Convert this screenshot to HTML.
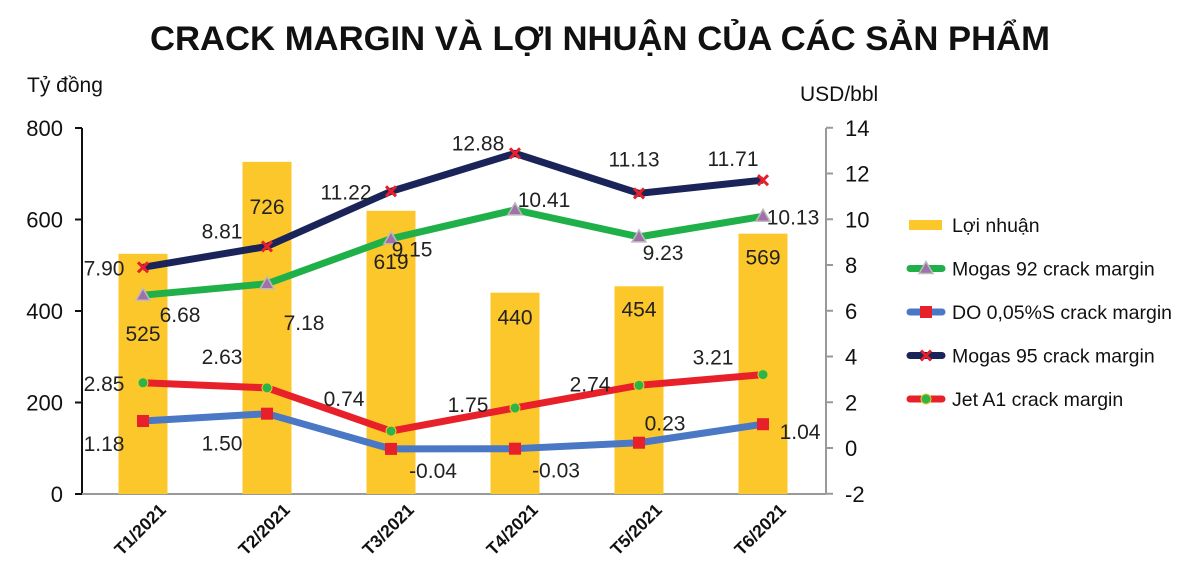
<!DOCTYPE html>
<html><head><meta charset="utf-8"><style>
html,body{margin:0;padding:0;background:#fff;}
svg{display:block;font-family:"Liberation Sans",sans-serif;}
</style></head><body>
<svg id="chart" width="1200" height="563" viewBox="0 0 1200 563">
<text x="600" y="50" text-anchor="middle" font-size="34" font-weight="bold" fill="#111" textLength="900" lengthAdjust="spacingAndGlyphs">CRACK MARGIN VÀ LỢI NHUẬN CỦA CÁC SẢN PHẨM</text>
<text x="27" y="92" font-size="21" fill="#111">Tỷ đồng</text>
<text x="800" y="101" font-size="21" fill="#111">USD/bbl</text>
<g id="axes"></g><g id="bars"></g><g id="lines"></g><g id="labels"></g><g id="legend"></g>
</svg>
<script>
const categories=["T1/2021","T2/2021","T3/2021","T4/2021","T5/2021","T6/2021"];
const profit=[525,726,619,440,454,569];
const mogas92=[6.68,7.18,9.15,10.41,9.23,10.13];
const doOil=[1.18,1.50,-0.04,-0.03,0.23,1.04];
const mogas95=[7.90,8.81,11.22,12.88,11.13,11.71];
const jetA1=[2.85,2.63,0.74,1.75,2.74,3.21];
const leftTicks=[0,200,400,600,800];
const rightTicks=[-2,0,2,4,6,8,10,12,14];

const NS="http://www.w3.org/2000/svg";
function mk(tag,attrs,parent,text){const e=document.createElementNS(NS,tag);for(const k in attrs)e.setAttribute(k,attrs[k]);if(text!==undefined)e.textContent=text;parent.appendChild(e);return e;}
const xS=i=>143+i*124;
const yL=v=>494-v*(366/800);
const yR=v=>448-v*(366/16);
const axes=document.getElementById('axes'),bars=document.getElementById('bars'),lines=document.getElementById('lines'),labels=document.getElementById('labels'),legend=document.getElementById('legend');

let a=mk('line',{x1:82,y1:128,x2:82,y2:494,stroke:'#111','stroke-width':2},axes);


a=mk('line',{x1:82,y1:494,x2:826,y2:494,stroke:'#999','stroke-width':2},axes);


a=mk('line',{x1:826,y1:128,x2:826,y2:494,stroke:'#999','stroke-width':2},axes);


leftTicks.forEach(v=>{
  mk('line',{x1:75,y1:yL(v),x2:82,y2:yL(v),stroke:'#111','stroke-width':2},axes);
  const t=mk('text',{x:63,y:yL(v)+8,'text-anchor':'end','font-size':22,fill:'#111'},axes,v);
  
  
});
rightTicks.forEach(v=>{
  mk('line',{x1:826,y1:yR(v),x2:833,y2:yR(v),stroke:'#999','stroke-width':2},axes);
  const t=mk('text',{x:845,y:yR(v)+8,'font-size':22,fill:'#111'},axes,v);
  
  
});
categories.forEach((c,i)=>{
  const t=mk('text',{x:xS(i)+24,y:511,'text-anchor':'end','font-size':17.5,'font-weight':'bold',fill:'#111',transform:`rotate(-45 ${xS(i)+24} 511)`},axes,c);
  
  
});

const barLabOff=[79,44,50,24,22,23];
profit.forEach((v,i)=>{
  const r=mk('rect',{x:xS(i)-24.5,y:yL(v),width:49,height:494-yL(v),fill:'#fcc72a'},bars);
  
  
  const t=mk('text',{x:xS(i),y:yL(v)+barLabOff[i]+8,'text-anchor':'middle','font-size':21,fill:'#222'},labels,v);
  
  
});

function marker(type,x,y,g){
  if(type==='tri'){mk('polygon',{points:`${x},${y-7} ${x-7},${y+5} ${x+7},${y+5}`,fill:'#a070a8',stroke:'#bbb','stroke-width':1.5},g);}
  else if(type==='sq'){mk('rect',{x:x-6,y:y-6,width:12,height:12,fill:'#e8202a'},g);}
  else if(type==='x'){mk('path',{d:`M${x-5} ${y-5}L${x+5} ${y+5}M${x+5} ${y-5}L${x-5} ${y+5}`,stroke:'#e8202a','stroke-width':3},g);}
  else {mk('circle',{cx:x,cy:y,r:5,fill:'#2db34a',stroke:'#e8d020','stroke-width':1},g);}
}
const series=[
 {name:'mogas92',data:mogas92,color:'#20b04a',m:'tri',off:[[37,19],[37,38],[21,10],[29,-11],[24,15],[30,0]],fmt:v=>v.toFixed(2)},
 {name:'do-oil',data:doOil,color:'#4a78c4',m:'sq',off:[[-39,22],[-45,29],[42,21],[41,21],[26,-20],[37,7]],fmt:v=>v.toFixed(2)},
 {name:'mogas95',data:mogas95,color:'#1a2458',m:'x',off:[[-39,0],[-45,-16],[-45,0],[-37,-11],[-5,-35],[-30,-22]],fmt:v=>v.toFixed(2)},
 {name:'jet-a1',data:jetA1,color:'#e8202a',m:'dot',off:[[-39,0],[-45,-32],[-47,-33],[-47,-4],[-49,-2],[-50,-18]],fmt:v=>v.toFixed(2)}
];
series.forEach(s=>{
  const pts=s.data.map((v,i)=>`${xS(i)},${yR(v)}`).join(' ');
  const l=mk('polyline',{points:pts,fill:'none',stroke:s.color,'stroke-width':7,'stroke-linejoin':'round'},lines);
  
  
});
series.forEach(s=>{
  s.data.forEach((v,i)=>{
    const g=mk('g',{},lines);
    
    
    marker(s.m,xS(i),yR(v),g);
    const t=mk('text',{x:xS(i)+s.off[i][0],y:yR(v)+s.off[i][1]+8,'text-anchor':'middle','font-size':21,fill:'#222'},labels,s.fmt(v));
    
    
  });
});

const legItems=[["Lợi nhuận",'bar'],["Mogas 92 crack margin",0],["DO 0,05%S crack margin",1],["Mogas 95 crack margin",2],["Jet A1 crack margin",3]];
legItems.forEach((it,k)=>{
  const y=225+k*43.5;
  const g=mk('g',{},legend);
  
  
  if(it[1]==='bar'){mk('rect',{x:909,y:y-5,width:33,height:10,fill:'#fcc72a'},g);}
  else{const s=series[it[1]];mk('line',{x1:910,y1:y,x2:942,y2:y,stroke:s.color,'stroke-width':7,'stroke-linecap':'round'},g);marker(s.m,926,y,g);}
  mk('text',{x:952,y:y+7,'font-size':19.5,fill:'#111'},g,it[0]);
});
</script>
</body></html>
